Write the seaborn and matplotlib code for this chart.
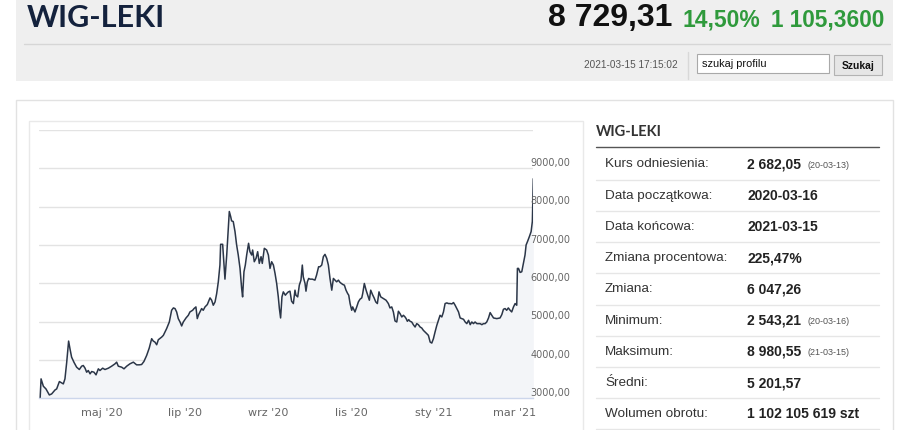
import pandas as pd
import matplotlib.pyplot as plt
import matplotlib.patches as mpatches
import matplotlib.lines as mlines
import seaborn as sns

# --- data ---
days = [0, 1.3, 3.0, 4.9, 7.4, 9.1, 11.6, 12.8, 14.8, 16.5, 17.7, 18.9, 20.2, 21.6, 22.6, 23.8,
        25.5, 27.5, 29.5, 31.2, 32.4, 33.7, 34.9, 36.1, 37.4, 38.6, 40.3, 41.8, 43.5, 44.7, 46.7,
        48.4, 50.9, 53.3, 55.8, 57.0, 58.2, 60.7, 62.4, 64.4, 66.8, 69.3, 71.7, 73.7, 75.4, 77.1,
        79.1, 81.0, 82.8, 84.0, 85.2, 86.5, 87.7, 90.2, 91.4, 93.8, 95.8, 97.5, 98.8, 100.0, 101.2,
        102.4, 103.7, 104.9, 106.1, 108.1, 109.8, 111.0, 113.0, 114.0, 115.4, 116.4, 117.4, 118.4,
        119.6, 120.8, 122.1, 123.8, 125.8, 127.0, 128.2, 129.5, 130.7, 131.9, 133.1, 133.6, 135.1,
        136.1, 136.8, 138.1, 139.3, 140.0, 141.0, 141.7, 142.9, 144.2, 145.4, 146.6, 147.9, 149.1,
        149.8, 150.8, 151.8, 152.8, 154.2, 155.2, 156.5, 157.2, 158.4, 159.7, 160.9, 162.1, 163.4,
        164.3, 165.8, 167.5, 168.8, 170.0, 171.2, 172.5, 173.7, 174.9, 176.1, 176.9, 177.8, 178.8,
        179.8, 181.3, 182.3, 183.5, 184.7, 185.9, 187.2, 188.4, 189.1, 190.4, 191.6, 192.8, 193.8,
        194.5, 195.8, 196.5, 197.5, 198.5, 199.5, 201.2, 203.1, 204.3, 205.8, 206.8, 208.1, 209.3,
        210.5, 211.8, 213.0, 214.2, 215.5, 216.7, 217.9, 219.1, 220.4, 221.6, 223.6, 224.8, 226.0,
        227.2, 228.0, 229.0, 230.2, 230.9, 232.6, 233.9, 235.1, 236.3, 237.6, 238.3, 239.5, 240.8,
        242.0, 243.2, 244.2, 245.5, 246.7, 247.9, 249.1, 250.3, 251.6, 253.5, 255.5, 257.2, 258.4,
        259.7, 260.9, 262.1, 263.4, 264.6, 265.8, 267.1, 268.3, 269.5, 270.3, 271.2, 272.2, 273.2,
        274.4, 275.6, 276.9, 278.1, 279.3, 280.6, 281.8, 283.0, 284.3, 285.5, 286.7, 288.0, 289.2,
        290.4, 291.6, 292.9, 294.1, 295.3, 296.6, 297.8, 299.0, 300.3, 301.5, 302.7, 304.0, 305.2,
        306.4, 307.6, 308.9, 310.1, 311.3, 312.6, 313.8, 315.0, 316.3, 317.5, 318.7, 319.9, 321.1,
        322.4, 324.8, 326.1, 327.3, 328.5, 329.7, 331.0, 332.2, 333.4, 334.7, 337.1, 339.5, 340.8,
        342.0, 343.2, 344.4, 345.6, 346.9, 348.1, 349.4, 350.6, 351.8, 352.3, 353.1, 354.3, 355.5,
        356.7, 357.9, 358.7, 359.9, 361.1, 362.4, 363.3, 364.0]

values = [2543, 3507, 3314, 3245, 3087, 3114, 3218, 3245, 3437, 3402, 3376, 3507, 3943, 4493, 4293,
          4074, 3943, 3812, 3751, 3838, 3856, 3786, 3681, 3725, 3638, 3699, 3681, 3611, 3769, 3725,
          3786, 3751, 3786, 3838, 3900, 3943, 3838, 3812, 3769, 3838, 3900, 3943, 3873, 3873, 3882,
          3961, 4118, 4310, 4555, 4493, 4467, 4397, 4528, 4598, 4642, 4817, 4991, 5297, 5358, 5341,
          5253, 5079, 4991, 4887, 4991, 5096, 5166, 5253, 5297, 5341, 5384, 5079, 5184, 5253, 5341,
          5297, 5384, 5446, 5620, 5559, 5428, 5515, 5734, 6039, 6476, 7018, 7018, 6476, 6109, 6738,
          7437, 7874, 7743, 7629, 7612, 7350, 7000, 6738, 6389, 5865, 5646, 6301, 6476, 6738, 7044,
          6825, 6738, 6869, 6563, 6651, 6825, 6520, 6695, 6520, 6913, 6869, 6738, 6389, 6563, 6476,
          6258, 5996, 5646, 5341, 5096, 5646, 5777, 5690, 5734, 5777, 5795, 5533, 5472, 5821, 5690,
          5646, 5952, 6083, 6476, 6170, 5996, 5795, 6039, 6127, 6109, 6109, 6083, 6214, 6432, 6432,
          6476, 6695, 6756, 6651, 6476, 6127, 5821, 6127, 6083, 6039, 6083, 6022, 5970, 5952, 5821,
          5734, 5690, 5472, 5297, 5384, 5253, 5384, 5515, 5585, 5620, 5734, 5996, 5821, 5690, 5559,
          5821, 5708, 5620, 5515, 5472, 5777, 5646, 5603, 5559, 5472, 5358, 5384, 5253, 5018, 4991,
          5271, 5210, 5122, 5166, 5122, 5079, 5009, 5052, 5009, 4991, 4921, 4860, 4948, 4921, 4860,
          4834, 4773, 4729, 4686, 4642, 4467, 4441, 4555, 4729, 4904, 5035, 5166, 5122, 5253, 5472,
          5489, 5472, 5472, 5463, 5498, 5428, 5341, 5253, 5096, 5079, 5061, 4991, 4948, 5035, 4921,
          4991, 4948, 4991, 4948, 4948, 4921, 4948, 4948, 4991, 5096, 5236, 5166, 5096, 5079, 5096,
          5184, 5323, 5341, 5297, 5358, 5297, 5253, 5384, 5472, 5428, 6389, 6389, 6284, 6301, 6520,
          6738, 7000, 7105, 7218, 7350, 7612, 8729]

tick_dates = ['2020-05-01', '2020-07-01', '2020-09-01', '2020-11-01', '2021-01-01', '2021-03-01']
tick_labels = ["maj '20", "lip '20", "wrz '20", "lis '20", "sty '21", "mar '21"]
y_ticks = [3000, 4000, 5000, 6000, 7000, 8000, 9000, 10000]
y_labels = ['3000,00', '4000,00', '5000,00', '6000,00', '7000,00', '8000,00', '9000,00']

name = 'WIG-LEKI'
last_price = '8 729,31'
pct_change = '14,50%'
abs_change = '1 105,3600'
timestamp = '2021-03-15 17:15:02'

row_labels = ['Kurs odniesienia:', 'Data początkowa:', 'Data końcowa:', 'Zmiana procentowa:',
              'Zmiana:', 'Minimum:', 'Maksimum:', 'Średni:', 'Wolumen obrotu:']
row_values = ['2 682,05', '2020-03-16', '2021-03-15', '225,47%', '6 047,26', '2 543,21',
              '8 980,55', '5 201,57', '1 102 105 619 szt']
row_notes = ['(20-03-13)', '', '', '', '', '(20-03-16)', '(21-03-15)', '', '']

# --- figure ---
sns.set_style('white')
plt.rcParams['font.family'] = ['Liberation Sans', 'DejaVu Sans']

W, H = 909, 431
fig = plt.figure(figsize=(W / 100, H / 100), dpi=100)
fig.patch.set_facecolor('white')


def fx(x):
    return x / W


def fy(y):
    return 1 - y / H


def box(x0, y0, x1, y1, fc, ec='none', lw=1.0, z=-5):
    r = mpatches.Rectangle((fx(x0), fy(y1)), (x1 - x0) / W, (y1 - y0) / H,
                           transform=fig.transFigure, facecolor=fc, edgecolor=ec,
                           linewidth=lw, zorder=z)
    fig.add_artist(r)


def hline(x0, x1, y, color, lw=1.0):
    fig.add_artist(mlines.Line2D([fx(x0), fx(x1)], [fy(y), fy(y)], color=color, lw=lw,
                                 transform=fig.transFigure, zorder=-4))


GREEN = '#2f9a3c'

# header band
box(16, 0, 893, 82, '#efefef')
hline(24, 890, 45, '#d6d6d6')
fig.text(fx(27), fy(18), name, fontsize=22, family=['Lato', 'DejaVu Sans'], weight='bold',
         color='#14223d', ha='left', va='center')
fig.text(fx(672), fy(18), last_price, fontsize=23, weight='bold',
         color='#111111', ha='right', va='center')
fig.text(fx(683), fy(20), pct_change, fontsize=16.5, weight='bold',
         color=GREEN, ha='left', va='center')
fig.text(fx(884), fy(20), abs_change, fontsize=16.3, weight='bold',
         color=GREEN, ha='right', va='center')
fig.text(fx(678), fy(65), timestamp, fontsize=7.2, color='#555555',
         ha='right', va='center')
fig.add_artist(mlines.Line2D([fx(688), fx(688)], [fy(53), fy(80)], color='#d8d8d8', lw=1,
                             transform=fig.transFigure, zorder=-4))
box(697, 55, 829, 74, 'white', '#a9a9a9', 0.8, z=-3)
fig.text(fx(702), fy(64), 'szukaj profilu', fontsize=7.9, color='#111111',
         ha='left', va='center')
box(834, 56, 882, 76, '#e6e6e6', '#b3b3b3', 0.8, z=-3)
fig.text(fx(858), fy(66), 'Szukaj', fontsize=7.4, weight='bold',
         color='#111111', ha='center', va='center')

# panels
box(16, 101, 893, 445, 'white', '#e2e2e2', 1.0)
box(29, 122, 583, 445, 'white', '#e9e9e9', 1.0, z=-4.5)

# --- chart ---
ax = fig.add_axes([fx(39.3), fy(399.3), 494 / W, (399.3 - 131) / H])
ax.patch.set_alpha(0)

start = pd.Timestamp('2020-03-16')
df = pd.DataFrame({'date': start + pd.to_timedelta(days, unit='D'), 'value': values})

ax.fill_between(df['date'], df['value'], 2000, color='#f3f5f8', zorder=1, linewidth=0)
sns.lineplot(data=df, x='date', y='value', ax=ax, estimator=None, sort=False,
             color='#2b3648', linewidth=1.1, zorder=2)

ax.set_xlim(start, start + pd.Timedelta(days=364))
ax.set_ylim(3000, 10000)
ax.set_yticks(y_ticks)
ax.yaxis.grid(True, color='#e3e3e3', linewidth=1)
ax.xaxis.grid(False)
ax.tick_params(axis='y', length=0, labelleft=False)
ax.set_xticks(pd.to_datetime(tick_dates))
ax.set_xticklabels(tick_labels)
ax.tick_params(axis='x', length=4.5, width=1, color='#ccd6eb', labelsize=8,
               labelcolor='#666666', pad=2)
for lab in ax.get_xticklabels():
    lab.set_family('DejaVu Sans')
ax.set_xlabel('')
ax.set_ylabel('')
for s in ['top', 'left', 'right']:
    ax.spines[s].set_visible(False)
ax.spines['bottom'].set_color('#ccd6eb')
ax.spines['bottom'].set_linewidth(1)

for v, lab in zip(y_ticks, y_labels):
    ax.annotate(lab, xy=(1.0, v), xycoords=('axes fraction', 'data'), xytext=(-2, 1),
                textcoords='offset points', ha='left', va='bottom', fontsize=7,
                family='DejaVu Sans', color='#666666', annotation_clip=False)

# --- side table ---
fig.text(fx(596), fy(132), name, fontsize=10.5, family=['Lato', 'DejaVu Sans'],
         weight='bold', color='#333333', ha='left', va='center')
hline(596, 879, 148.3, '#555555', 1.0)
for i, (lab, val, note) in enumerate(zip(row_labels, row_values, row_notes)):
    yc = 164.3 + i * 31.25
    fig.text(fx(605), fy(yc), lab, fontsize=9.7, color='#333333', ha='left', va='center')
    fig.text(fx(747), fy(yc), val, fontsize=10, weight='bold', color='#222222',
             ha='left', va='center')
    if note:
        fig.text(fx(807), fy(yc + 1), note, fontsize=6.5, color='#555555',
                 ha='left', va='center')
    hline(596, 879, 180.7 + i * 31.2, '#e6e6e6', 1.0)

fig.savefig('out.png', dpi=100)
